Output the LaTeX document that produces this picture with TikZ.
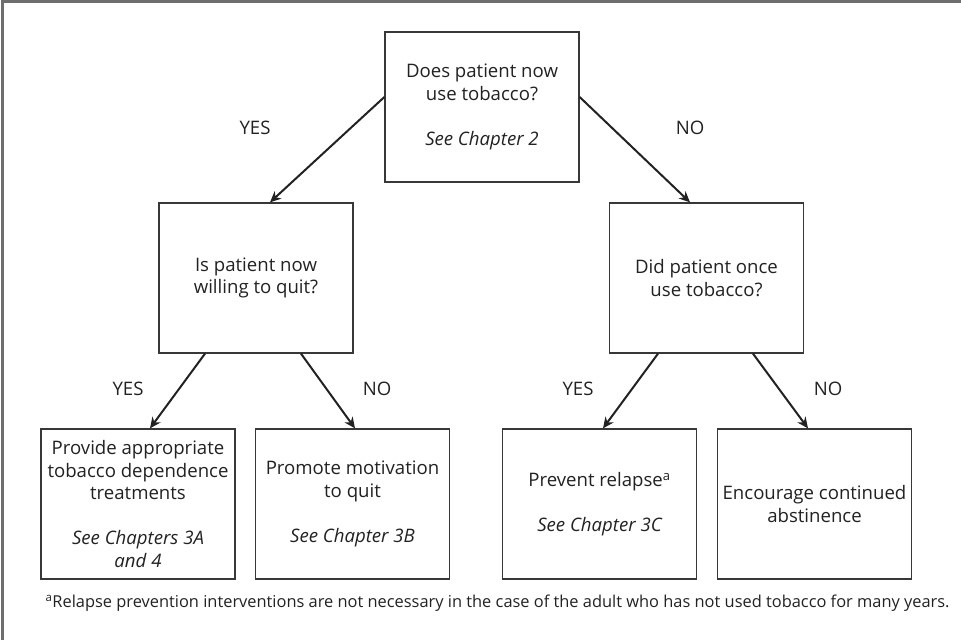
\documentclass[tikz,border=0pt]{standalone}
\usepackage{fontspec}
\setmainfont{Open Sans}
\usetikzlibrary{arrows.meta}
\definecolor{ink}{HTML}{222222}
\definecolor{frame}{HTML}{6E6E6E}
\tikzset{
  box/.style={draw=ink!90, line width=1.3pt, fill=white, minimum width=#1, inner sep=0pt, align=center, text=ink, font=\fontsize{18.6}{22.5}\selectfont},
  box/.default=194pt,
  arr/.style={draw=ink, line width=2pt, -{Stealth[length=11pt,width=10pt]}},
  lab/.style={text=ink, font=\fontsize{18.6}{21}\selectfont},
}
\begin{document}
\begin{tikzpicture}[x=1pt,y=-1pt]
\useasboundingbox (0,0) rectangle (961,640);
\draw[frame, line width=2.5pt] (2.5,640) -- (2.5,1.5) -- (961,1.5);
% boxes
\node[box, minimum height=150pt] (top) at (482,107) {Does patient now\\use tobacco?\\[22.5pt]\itshape See Chapter 2};
\node[box, minimum height=150pt] (l) at (256,278) {Is patient now\\willing to quit?};
\node[box, minimum height=150pt] (r) at (706.5,278) {Did patient once\\use tobacco?};
\node[box, minimum height=150pt] (b1) at (138,504) {Provide appropriate\\tobacco dependence\\treatments\\[22.5pt]\itshape See Chapters 3A\\\itshape and 4};
\node[box, minimum height=150pt] (b2) at (352.5,504) {Promote motivation\\to quit\\[22.5pt]\itshape See Chapter 3B};
\node[box, minimum height=150pt] (b3) at (599.5,504) {Prevent relapse\textsuperscript{a}\\[22.5pt]\itshape See Chapter 3C};
\node[box, minimum height=150pt] (b4) at (814.5,504) {Encourage continued\\abstinence};
% arrows
\draw[arr] (top.west |- 0,97) -- (l.north -| 270,0);
\draw[arr] (top.east |- 0,97) -- (r.north -| 690,0);
\draw[arr] (l.south -| 205,0) -- (b1.north -| 150,0);
\draw[arr] (l.south -| 301,0) -- (b2.north -| 355,0);
\draw[arr] (r.south -| 658,0) -- (b3.north -| 603,0);
\draw[arr] (r.south -| 753,0) -- (b4.north -| 808,0);
% labels
\node[lab] (y1) at (255,128) {YES};
\node[lab] (n1) at (690,128) {NO};
\node[lab] (y2) at (128,389) {YES};
\node[lab] (n2) at (377,389) {NO};
\node[lab] (y3) at (578,389) {YES};
\node[lab] (n3) at (828,389) {NO};
% footnote
\node[text=ink, font=\fontsize{16.4}{19}\selectfont, anchor=west] (fn) at (42,603) {\textsuperscript{a}Relapse prevention interventions are not necessary in the case of the adult who has not used tobacco for many years.};
\end{tikzpicture}
\end{document}
